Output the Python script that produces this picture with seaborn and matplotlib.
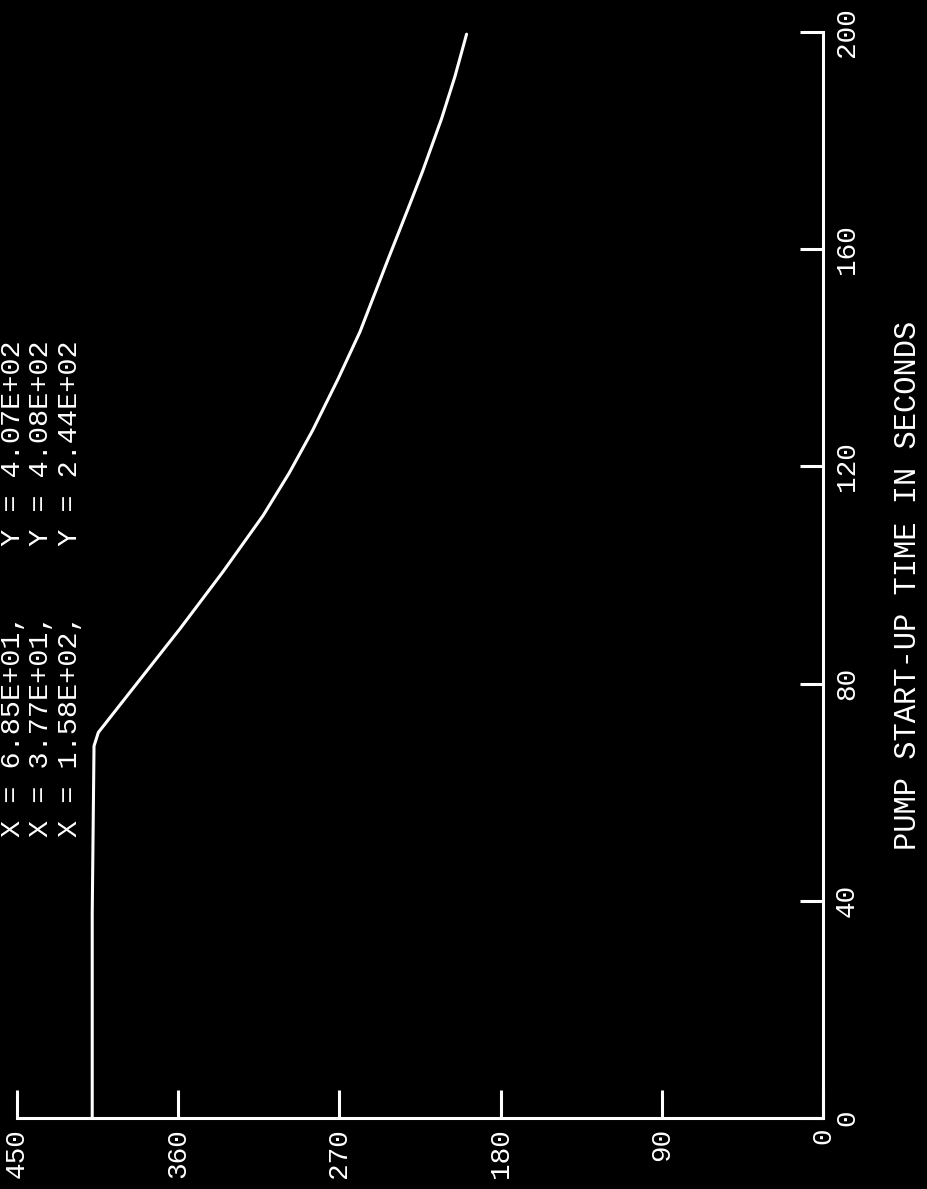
import matplotlib
matplotlib.use("Agg")
import matplotlib.pyplot as plt
import seaborn as sns

# Pump start-up curve: value held flat, then decaying after ~68 s
time_s = [0, 37.7, 68.5, 71.0, 78.8, 90.1, 100.6, 111.0, 118.8, 126.6,
          136.2, 144.8, 158.0, 167.6, 174.4, 184.0, 191.8, 199.6]
head = [408, 408, 407, 404.6, 386, 359, 335, 312.5, 298, 285,
        270.6, 258.5, 243, 231.5, 223.5, 213, 205.5, 199]

time_ticks = [0, 40, 80, 120, 160, 200]
value_ticks = [0, 90, 180, 270, 360, 450]

cursor_x = ["6.85E+01", "3.77E+01", "1.58E+02"]
cursor_y = ["4.07E+02", "4.08E+02", "2.44E+02"]
axis_label = "PUMP START-UP TIME IN SECONDS"

sns.set_style("white")
plt.rcParams["font.family"] = ["Liberation Mono", "DejaVu Sans Mono"]

W, H = 928, 1189
fig = plt.figure(figsize=(W / 100, H / 100), dpi=100, facecolor="black")
# plot is drawn turned on its side: time runs upward, value runs right-to-left
ax = fig.add_axes([17 / W, (H - 1118) / H, (823 - 17) / W, (1118 - 32) / H])
ax.set_facecolor("black")

sns.lineplot(x=head, y=time_s, sort=False, estimator=None, color="white",
             linewidth=2.2, ax=ax)
for ln in ax.lines:
    ln.set_clip_on(False)

ax.set_xlim(450, 0)
ax.set_ylim(0, 200)
ax.set_xticks(value_ticks)
ax.set_yticks(time_ticks)
ax.set_xticklabels([str(v) for v in value_ticks])
ax.set_yticklabels([str(t) for t in time_ticks])
ax.yaxis.tick_right()

for side in ["left", "top"]:
    ax.spines[side].set_visible(False)
for side in ["bottom", "right"]:
    ax.spines[side].set_visible(True)
    ax.spines[side].set_color("white")
    ax.spines[side].set_linewidth(2.2)

ax.tick_params(axis="x", bottom=True, top=False, direction="in", length=20,
               width=2.2, colors="white", pad=7, labelrotation=90, labelsize=20)
ax.tick_params(axis="y", right=True, left=False, direction="in", length=16.5,
               width=2.2, colors="white", pad=8, labelrotation=90, labelsize=20)
for lab in ax.get_yticklabels():
    lab.set_verticalalignment("center")

ax.set_xlabel("")
ax.yaxis.set_label_position("right")
ylab = ax.set_ylabel(axis_label, color="white", fontsize=22, rotation=90)
ylab.set_rotation_mode("anchor")
ylab.set_horizontalalignment("center")
ylab.set_verticalalignment("baseline")
ax.yaxis.set_label_coords((916 - 17) / (823 - 17), (1118 - 585) / (1118 - 32))

# cursor read-outs
baselines = [20, 48.5, 77]
for xp, cx, cy in zip(baselines, cursor_x, cursor_y):
    fig.text(xp / W, (H - 837) / H, f"X = {cx},    Y = {cy}",
             rotation=90, rotation_mode="anchor", ha="left", va="baseline",
             color="white", fontsize=20.5)

fig.savefig("out.png", dpi=100, facecolor="black")
